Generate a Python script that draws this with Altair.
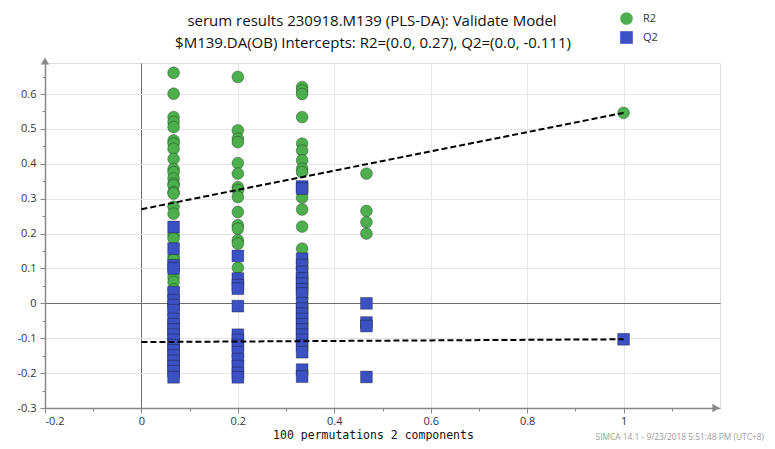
import altair as alt
import pandas as pd

# permutation correlation positions (x) and values
col_x = [0.0667, 0.2, 0.3333, 0.4667, 1.0]

r2_cols = [
    [0.661, 0.601, 0.534, 0.52, 0.505, 0.467, 0.458, 0.443, 0.414, 0.385, 0.376, 0.358,
     0.343, 0.338, 0.319, 0.315, 0.277, 0.257, 0.195, 0.186, 0.133, 0.125, 0.075, 0.061, 0.04],
    [0.649, 0.496, 0.472, 0.462, 0.402, 0.372, 0.333, 0.324, 0.305, 0.262, 0.224, 0.214,
     0.181, 0.171, 0.102],
    [0.62, 0.61, 0.60, 0.534, 0.458, 0.438, 0.41, 0.386, 0.376, 0.303, 0.269, 0.22, 0.157,
     0.071, 0.052],
    [0.372, 0.265, 0.233, 0.2],
    [0.546],
]
q2_cols = [
    [0.219, 0.157, 0.109, 0.10, 0.032, 0.009, -0.005, -0.02, -0.045, -0.06, -0.075, -0.09,
     -0.105, -0.12, -0.135, -0.15, -0.165, -0.18, -0.195, -0.212],
    [0.136, 0.071, 0.052, 0.042, -0.008, -0.09, -0.105, -0.12, -0.14, -0.16, -0.18, -0.2, -0.212],
    [0.335, 0.329, 0.128, 0.11, 0.09, 0.071, 0.056, 0.04, 0.028, 0.0, -0.015, -0.03, -0.045,
     -0.06, -0.075, -0.09, -0.105, -0.12, -0.14, -0.19, -0.21],
    [0.0, -0.055, -0.065, -0.211],
    [-0.103],
]

fit_x = [0.0, 1.0]
r2_fit = [0.27, 0.546]
q2_fit = [-0.111, -0.103]

title_lines = ["serum results 230918.M139 (PLS-DA): Validate Model",
               "$M139.DA(OB) Intercepts: R2=(0.0, 0.27), Q2=(0.0, -0.111)"]
x_title = "100 permutations 2 components"
footer = "SIMCA 14.1 - 9/23/2018 5:51:48 PM (UTC+8)"

x_ticks = [round(-0.2 + 0.1 * i, 2) for i in range(14)]
y_ticks = [round(-0.3 + 0.05 * i, 2) for i in range(20)]

rows = []
for xv, vals in zip(col_x, r2_cols):
    for v in vals:
        rows.append({"x": xv, "y": v, "series": "R2", "order": 0})
for xv, vals in zip(col_x, q2_cols):
    for v in vals:
        rows.append({"x": xv, "y": v, "series": "Q2", "order": 1})
pts = pd.DataFrame(rows)

fit_rows = []
for name, ys in (("R2", r2_fit), ("Q2", q2_fit)):
    for xv, yv in zip(fit_x, ys):
        fit_rows.append({"x": xv, "y": yv, "series": name})
fit = pd.DataFrame(fit_rows)

W, H = 675, 345
FONT = "Open Sans"

x_scale = alt.Scale(domain=[-0.2, 1.2], nice=False, zero=False)
y_scale = alt.Scale(domain=[-0.3, 0.689], nice=False, zero=False)

x_axis = alt.Axis(
    values=x_ticks, title=x_title,
    labelExpr="abs(round(datum.value*10)) % 2 == 0 ? '' + datum.value : ''",
    grid=True,
    gridColor={"condition": {"test": "datum.value == 0", "value": "#6e6e6e"}, "value": "#e6e6e6"},
    gridOpacity={"condition": {"test": "abs(round(datum.value*10)) % 2 == 1 || datum.value < -0.19",
                               "value": 0}, "value": 1},
    tickSize={"condition": {"test": "abs(round(datum.value*10)) % 2 == 1", "value": 3}, "value": 5},
    tickColor="#888", domainColor="#888", domainWidth=1.5,
    labelFont=FONT, labelFontSize=11, labelColor="#333", labelPadding=2,
    titleFont="DejaVu Sans Mono", titleFontSize=11.5, titleFontWeight="normal", titleColor="#111",
    titleX=328, titleY=30, titleBaseline="alphabetic",
)
y_axis = alt.Axis(
    values=y_ticks, title=None,
    labelExpr="abs(round(datum.value*20)) % 2 == 0 ? '' + datum.value : ''",
    grid=True,
    gridColor={"condition": {"test": "datum.value == 0", "value": "#6e6e6e"}, "value": "#e6e6e6"},
    gridOpacity={"condition": {"test": "abs(round(datum.value*20)) % 2 == 1 || datum.value < -0.29",
                               "value": 0}, "value": 1},
    tickSize={"condition": {"test": "abs(round(datum.value*20)) % 2 == 1", "value": 3}, "value": 5},
    tickColor="#888", domainColor="#888", domainWidth=1.5,
    labelFont=FONT, labelFontSize=11, labelColor="#333", labelPadding=4,
)

color_scale = alt.Scale(domain=["R2", "Q2"], range=["#4cae4c", "#3b50c2"])
shape_scale = alt.Scale(domain=["R2", "Q2"], range=["circle", "square"])

leg = dict(title=None, orient="none", legendX=575, legendY=-51, symbolSize=160,
           labelFont=FONT, labelFontSize=11, labelColor="#333", rowPadding=6, padding=0,
           symbolStrokeWidth=0, labelOffset=10)

points = alt.Chart(pts).mark_point(
    filled=True, size=140, opacity=1, stroke="#000", strokeOpacity=0.3, strokeWidth=1
).encode(
    x=alt.X("x:Q", scale=x_scale, axis=x_axis),
    y=alt.Y("y:Q", scale=y_scale, axis=y_axis),
    color=alt.Color("series:N", scale=color_scale, legend=alt.Legend(**leg)),
    shape=alt.Shape("series:N", scale=shape_scale, legend=alt.Legend(**leg)),
    order=alt.Order("order:Q"),
)

lines = alt.Chart(fit).mark_line(
    color="black", strokeDash=[6, 3], strokeWidth=2
).encode(
    x=alt.X("x:Q", scale=x_scale, axis=x_axis),
    y=alt.Y("y:Q", scale=y_scale, axis=y_axis),
    detail="series:N",
)

arrow_up = alt.Chart(pd.DataFrame({"a": [0]})).mark_point(
    shape="triangle-up", filled=True, color="#888", size=70, opacity=1
).encode(x=alt.value(0), y=alt.value(-2))

arrow_right = alt.Chart(pd.DataFrame({"a": [0]})).mark_point(
    shape="triangle-right", filled=True, color="#888", size=70, opacity=1
).encode(x=alt.value(W - 4), y=alt.value(H))

title1 = alt.Chart(pd.DataFrame({"t": [title_lines[0]]})).mark_text(
    align="center", baseline="alphabetic", fontSize=15, color="#111", font=FONT
).encode(x=alt.value(327), y=alt.value(-37), text="t:N")

title2 = alt.Chart(pd.DataFrame({"t": [title_lines[1]]})).mark_text(
    align="center", baseline="alphabetic", fontSize=15, color="#111", font=FONT
).encode(x=alt.value(328), y=alt.value(-15), text="t:N")

foot = alt.Chart(pd.DataFrame({"t": [footer]})).mark_text(
    align="right", baseline="alphabetic", fontSize=8.4, color="#9a9a9a", font=FONT
).encode(x=alt.value(719), y=alt.value(377), text="t:N")

chart = alt.layer(points, lines, arrow_up, arrow_right, title1, title2, foot).properties(
    width=W, height=H,
    autosize=alt.AutoSizeParams(type="none"),
    padding={"left": 37, "top": 55, "right": 47, "bottom": 33},
).configure_view(stroke=None).configure(background="white")

chart.save("out.html", embed_options={"renderer": "svg", "actions": False})
